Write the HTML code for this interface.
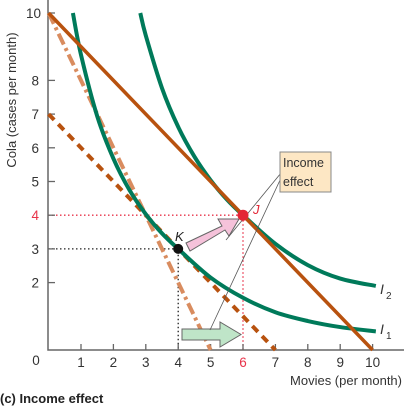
<!DOCTYPE html>
<html><head><meta charset="utf-8"><style>
body{margin:0;background:#fff}
svg{font-family:"Liberation Sans",sans-serif;display:block}
</style></head><body>
<svg width="404" height="408" viewBox="0 0 404 408">
<g id="g"></g>
</svg>
<script>
const xTicks=[1,2,3,4,5,6,7,8,9,10];
const yTicks=[2,3,4,5,6,7,8,10];
const i1X=[0.75,1,1.5,2,2.5,3,3.5,4,5,6,7,8,9,10.1];
const i1Y=[10,8.76,6.94,5.68,4.74,4.03,3.46,3.0,2.15,1.55,1.12,0.86,0.68,0.55];
const i2X=[2.83,3,3.5,4,4.5,5,5.5,6,7,8,9,10.1];
const i2Y=[10,9.33,7.77,6.62,5.74,5.04,4.47,4.0,3.15,2.52,2.12,1.9];
const solidBudget=[[0,10],[10,0]];
const dashedBudget=[[0,7],[7,0]];
const dashDotBudget=[[0,10],[5,0]];
const pointJ=[6,4];
const pointK=[4,3];
const X=v=>48.6+32.4*v, Y=v=>350-33.7*v;
const NS="http://www.w3.org/2000/svg";
const g=document.getElementById('g');
function mk(t,a,txt){const e=document.createElementNS(NS,t);for(const k in a)e.setAttribute(k,a[k]);if(txt!==undefined)e.textContent=txt;g.appendChild(e);return e;}
let e;
e=mk('path',{d:`M48 ${Y(pointJ[1])}H${X(pointJ[0])}V350`,stroke:'#e8334a','stroke-width':1.3,'stroke-dasharray':'1.5 2.5',fill:'none'});


e=mk('path',{d:`M48 ${Y(pointK[1])}H${X(pointK[0])}V350`,stroke:'#222','stroke-width':1.3,'stroke-dasharray':'1.5 2.5',fill:'none'});


e=mk('path',{d:'M48 0V350H404',stroke:'#666','stroke-width':1.5,fill:'none'});


xTicks.forEach(v=>{
 e=mk('line',{x1:X(v),x2:X(v),y1:350,y2:344,stroke:'#666','stroke-width':1.3});
 
 
 e=mk('text',{x:X(v),y:367,'text-anchor':'middle','font-size':13.5,fill:v===6?'#e8334a':'#333'},v);
 
 
});
yTicks.forEach(v=>{
 e=mk('line',{x1:48,x2:55,y1:Y(v),y2:Y(v),stroke:'#666','stroke-width':1.3});
 
 
 e=mk('text',{x:v===10?41:39,y:Y(v)+5,'text-anchor':'end','font-size':13.5,fill:v===4?'#e8334a':'#333'},v);
 
 
});
e=mk('text',{x:36,y:365,'text-anchor':'middle','font-size':13.5,fill:'#333'},'0');


e=mk('text',{x:402,y:385,'text-anchor':'end','font-size':13,fill:'#333'},'Movies (per month)');


e=mk('text',{x:0,y:0,transform:'translate(16,100) rotate(-90)','text-anchor':'middle','font-size':13,fill:'#333'},'Cola (cases per month)');


function seg(p,attrs,name){e=mk('line',Object.assign({x1:X(p[0][0]),y1:Y(p[0][1]),x2:X(p[1][0]),y2:Y(p[1][1])},attrs));}
seg(dashDotBudget,{stroke:'#d98c5f','stroke-width':4,'stroke-dasharray':'12 4 3 4'},'budget-line-dash-dot');
seg(dashedBudget,{stroke:'#b8520f','stroke-width':4,'stroke-dasharray':'8 6'},'budget-line-dashed');
function curve(xs,ys,name){
 const p=xs.map((x,i)=>[X(x),Y(ys[i])]);
 let d=`M${p[0][0]} ${p[0][1]}`;
 for(let i=0;i<p.length-1;i++){const a=p[i-1]||p[i],b=p[i],c=p[i+1],n=p[i+2]||c;
  d+=` C${b[0]+(c[0]-a[0])/6} ${b[1]+(c[1]-a[1])/6} ${c[0]-(n[0]-b[0])/6} ${c[1]-(n[1]-b[1])/6} ${c[0]} ${c[1]}`;}
 e=mk('path',{d,stroke:'#007a5a','stroke-width':4,fill:'none'});
 
 
}
curve(i1X,i1Y,'indifference-curve-i1');
curve(i2X,i2Y,'indifference-curve-i2');
seg(solidBudget,{stroke:'#b8520f','stroke-width':3.5},'budget-line-solid');
e=mk('text',{x:380,y:294,'font-size':14,'font-style':'italic',fill:'#333'},'I');


mk('text',{x:386,y:299,'font-size':10,fill:'#333'},'2');
e=mk('text',{x:380,y:334,'font-size':14,'font-style':'italic',fill:'#333'},'I');


mk('text',{x:386,y:339,'font-size':10,fill:'#333'},'1');
e=mk('path',{d:'M186 243 L222 226 L218 219 L239 219 L229 236 L225 230 L190 251 Z',fill:'#f5c2da',stroke:'#666','stroke-width':1});


e=mk('path',{d:'M182 329 H220 V322 L241 334.5 L220 347 V340 H182 Z',fill:'#bfe5c8',stroke:'#666','stroke-width':1});


mk('line',{x1:281,y1:173,x2:226,y2:240,stroke:'#555','stroke-width':0.8});
mk('line',{x1:281,y1:178,x2:210,y2:330,stroke:'#555','stroke-width':0.8});
e=mk('rect',{x:280,y:152,width:51,height:40,fill:'#fde7c4',stroke:'#888','stroke-width':1});


mk('text',{x:283,y:167,'font-size':12.5,fill:'#333'},'Income');
mk('text',{x:283,y:186,'font-size':12.5,fill:'#333'},'effect');
e=mk('circle',{cx:X(pointJ[0]),cy:Y(pointJ[1]),r:5.5,fill:'#e32636'});


e=mk('text',{x:253,y:214,'font-size':13,'font-style':'italic',fill:'#e32636'},'J');


e=mk('circle',{cx:X(pointK[0]),cy:Y(pointK[1]),r:5,fill:'#111'});


e=mk('text',{x:175,y:241,'font-size':13,'font-style':'italic',fill:'#222'},'K');


e=mk('text',{x:0,y:403,'font-size':13,'font-weight':'bold',fill:'#222'},'(c) Income effect');


</script>
</body></html>
